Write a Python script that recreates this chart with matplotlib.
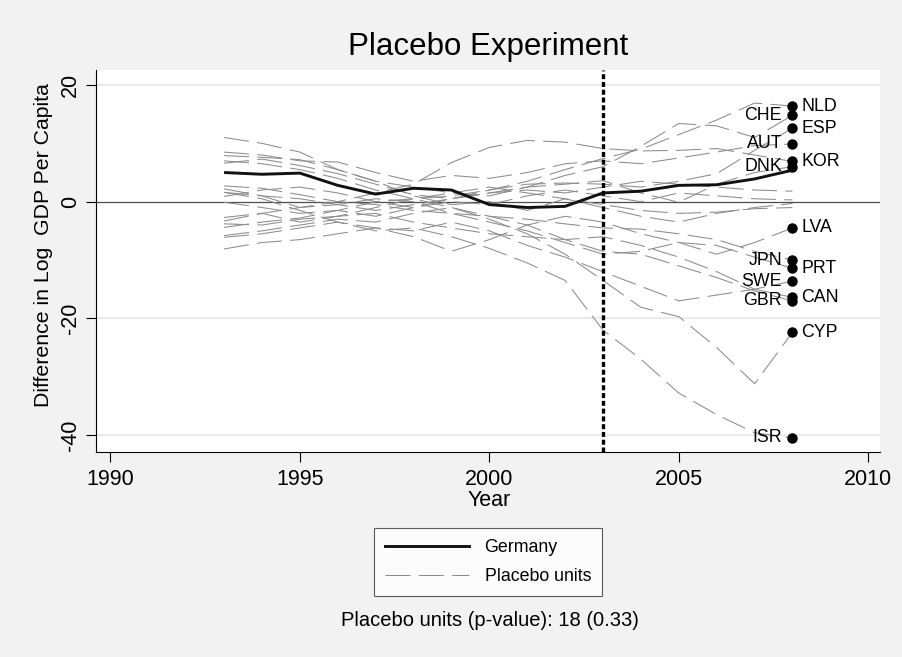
import matplotlib
matplotlib.use("Agg")
import matplotlib.pyplot as plt
from matplotlib.lines import Line2D

plt.rcParams['font.family'] = ['Liberation Sans', 'DejaVu Sans']
plt.rcParams['lines.scale_dashes'] = False

# ---------------- data ----------------
years = list(range(1993, 2009))
germany = [5.0, 4.7, 4.9, 2.8, 1.3, 2.3, 2.0, -0.5, -1.0, -0.8, 1.5, 1.8, 2.8, 2.9, 3.9, 5.4]

nld = [6.6, 7.3, 6.2, 4.8, 3.0, 1.2, 0.5, 2.0, 3.5, 5.5, 7.4, 9.0, 11.5, 14.0, 16.9, 16.4]
che = [7.9, 7.6, 7.2, 5.5, 3.5, 2.5, 1.5, 1.0, 2.5, 4.5, 6.0, 9.5, 13.4, 13.0, 11.0, 14.8]
esp = [-4.4, -3.5, -2.8, -1.5, 0.0, 0.5, 1.0, 2.0, 3.0, 3.2, 3.0, 2.5, 3.5, 4.8, 8.8, 12.6]
aut = [8.5, 8.0, 7.0, 6.8, 5.0, 3.5, 4.5, 4.0, 5.0, 6.5, 7.0, 6.5, 7.5, 8.5, 9.6, 9.9]
kor = [2.2, 1.0, -1.0, 0.0, 1.5, 3.0, 6.7, 9.3, 10.5, 10.2, 9.1, 8.7, 8.8, 9.1, 8.0, 6.9]
dnk = [1.6, 1.0, 0.5, -0.5, -1.5, -0.5, 0.5, 1.5, 2.5, 3.0, 3.6, 1.5, -0.1, 3.0, 5.0, 6.0]
unit_a = [0.9, 2.0, 2.5, 1.5, 0.0, -1.0, 0.5, 1.5, 2.0, 1.5, 2.5, 3.5, 3.0, 2.5, 2.0, 1.8]
unit_b = [-0.1, -1.0, -2.0, -1.5, -2.5, -1.0, 0.0, -0.5, 1.0, 2.0, 1.0, 0.0, 1.5, 1.0, 0.5, 0.3]
unit_c = [-2.7, -2.0, -3.5, -2.5, -1.0, 0.5, 1.5, 2.5, 1.5, 0.5, -1.0, -2.5, -3.5, -2.0, -1.0, -0.3]
unit_d = [11.0, 10.0, 8.5, 5.5, 3.5, 1.0, -0.5, 0.0, -1.5, 0.5, -0.5, -1.5, -2.0, -1.8, -1.2, -1.0]
lva = [-8.1, -7.0, -6.5, -5.5, -4.5, -6.0, -8.5, -6.5, -4.0, -2.5, -3.5, -5.5, -7.0, -9.0, -7.0, -4.5]
jpn = [2.7, 2.3, 1.2, 0.0, -0.5, -1.5, -2.0, -2.5, -3.0, -3.8, -4.5, -4.7, -5.5, -6.5, -8.5, -10.0]
prt = [-3.3, -2.0, -1.0, -0.5, 0.5, 0.0, -2.0, -3.5, -5.0, -7.0, -9.0, -8.5, -7.0, -7.5, -9.5, -11.4]
swe = [-6.1, -5.5, -4.5, -3.5, -4.5, -5.0, -3.5, -5.0, -7.5, -9.5, -12.0, -14.5, -17.0, -16.0, -15.0, -13.6]
gbr = [7.0, 6.5, 5.5, 4.0, 2.0, 0.5, -1.0, -2.5, -4.0, -6.5, -8.5, -9.0, -11.0, -13.0, -15.3, -17.0]
can = [-3.8, -4.0, -3.0, -2.5, -2.0, -3.5, -4.5, -5.5, -6.0, -6.5, -6.0, -7.5, -9.5, -12.0, -15.0, -16.4]
cyp = [-5.8, -5.0, -4.0, -3.0, -3.5, -2.0, -1.0, -3.0, -5.5, -9.0, -13.5, -18.1, -19.7, -25.0, -31.2, -22.4]
isr = [1.6, 0.5, -1.5, -3.5, -5.0, -4.5, -6.0, -8.0, -10.5, -13.5, -22.0, -27.0, -32.8, -36.5, -39.6, -40.5]

labeled_right = {"NLD": nld, "ESP": esp, "KOR": kor, "LVA": lva, "PRT": prt, "CAN": can, "CYP": cyp}
labeled_left = {"CHE": che, "AUT": aut, "DNK": dnk, "JPN": jpn, "SWE": swe, "GBR": gbr, "ISR": isr}
unlabeled = [unit_a, unit_b, unit_c, unit_d]

treatment_year = 2003
title = "Placebo Experiment"
xlabel = "Year"
ylabel = "Difference in Log  GDP Per Capita"
note = "Placebo units (p-value): 18 (0.33)"
xticks = [1990, 1995, 2000, 2005, 2010]
yticks = [-40, -20, 0, 20]

# ---------------- figure ----------------
W, H = 903, 657
fig = plt.figure(figsize=(W / 100, H / 100), dpi=100, facecolor='#f2f2f2')
ax = fig.add_axes([96 / W, 1 - 452 / H, (880 - 96) / W, (452 - 70) / H])
ax.set_facecolor('white')
ax.set_xlim(1989.62, 2010.31)
ax.set_ylim(-42.9, 22.57)

for s in ['top', 'right']:
    ax.spines[s].set_visible(False)
for s in ['left', 'bottom']:
    ax.spines[s].set_color('black')
    ax.spines[s].set_linewidth(0.8)

ax.set_xticks(xticks)
ax.set_yticks(yticks)
ax.set_yticklabels([str(v) for v in yticks], rotation=90, va='center')
ax.tick_params(direction='out', length=7, width=0.8, labelsize=15.5, colors='black')
ax.tick_params(axis='x', pad=5.5)
ax.tick_params(axis='y', pad=4)
for v in yticks:
    if v != 0:
        ax.axhline(v, color='#ebebeb', lw=1.6, zorder=0.5)
ax.axhline(0, color='#4d4d4d', lw=0.9, zorder=1.5)

placebo_style = dict(color='#8c8c8c', lw=0.75, dashes=(18, 6), zorder=2)
for vals in unlabeled:
    ax.plot(years, vals, **placebo_style)
for name, vals in list(labeled_right.items()) + list(labeled_left.items()):
    ax.plot(years, vals, **placebo_style)

ax.plot(years, germany, color='#111111', lw=2.1, zorder=3, solid_capstyle='butt')

ax.axvline(treatment_year, color='black', lw=2.4, linestyle=(0, (3.6, 2.0)), zorder=4)

for name, vals in labeled_right.items():
    ax.plot(years[-1], vals[-1], 'o', color='black', ms=6.5, zorder=5)
    ax.annotate(name, (years[-1], vals[-1]), xytext=(6.5, 0), textcoords='offset points',
                ha='left', va='center', fontsize=12.8)
for name, vals in labeled_left.items():
    ax.plot(years[-1], vals[-1], 'o', color='black', ms=6.5, zorder=5)
    ax.annotate(name, (years[-1], vals[-1]), xytext=(-7.5, 0), textcoords='offset points',
                ha='right', va='center', fontsize=12.8)

fig.text(488 / W, 1 - 47 / H, title, ha='center', va='center', fontsize=22.5)
fig.text(489 / W, 1 - 500 / H, xlabel, ha='center', va='center', fontsize=15.5)
fig.text(44 / W, 1 - 245 / H, ylabel, ha='center', va='center', rotation=90, fontsize=15.3)

handles = [Line2D([], [], color='#111111', lw=2.1),
           Line2D([], [], color='#8c8c8c', lw=0.75, dashes=(18, 6))]
leg = fig.legend(handles, ['Germany', 'Placebo units'], loc='center',
                 bbox_to_anchor=(488 / W, 1 - 562 / H), frameon=True, fancybox=False,
                 edgecolor='#333333', facecolor='white', fontsize=12.8, handlelength=4.7,
                 handletextpad=0.9, labelspacing=0.7, borderpad=0.6)
leg.get_frame().set_linewidth(0.8)

fig.text(490 / W, 1 - 621 / H, note, ha='center', va='center', fontsize=14.5)

fig.savefig('out.png', dpi=100, facecolor=fig.get_facecolor())
